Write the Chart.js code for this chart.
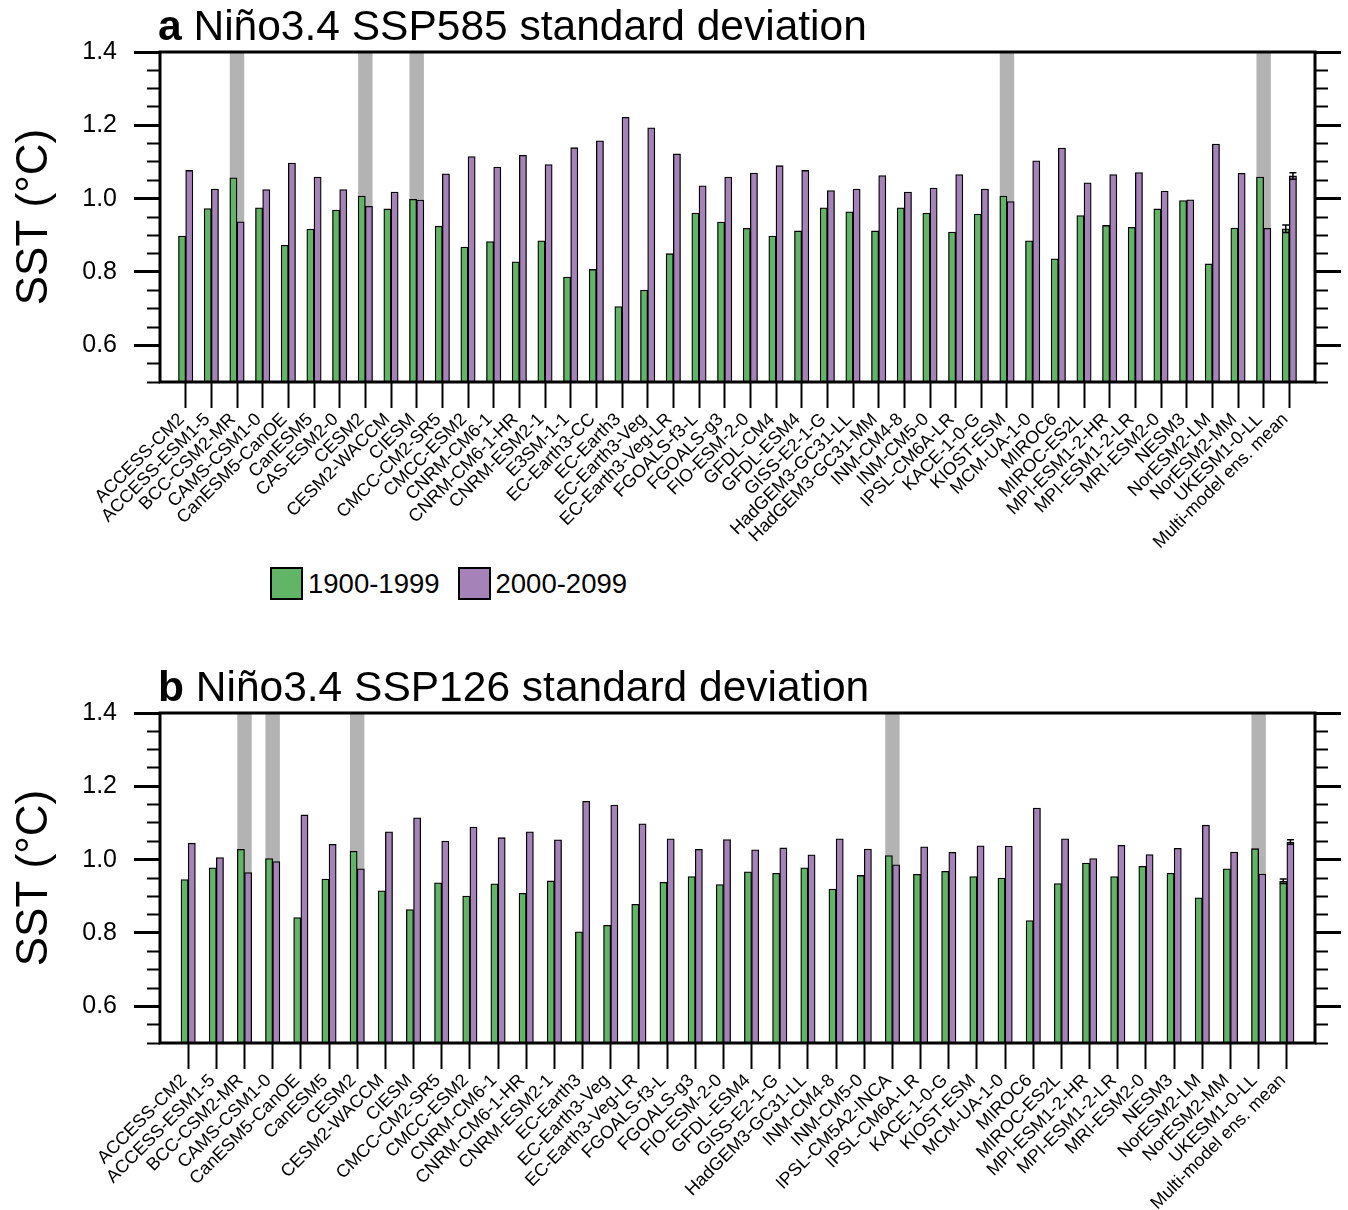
<!DOCTYPE html>
<html>
<head>
<meta charset="utf-8">
<title>Niño3.4 standard deviation</title>
<script src="https://cdn.jsdelivr.net/npm/chart.js@4.4.1/dist/chart.umd.min.js"></script>
<style>
  html, body { margin: 0; padding: 0; background: #fff; }
  body {
    width: 1348px; height: 1210px; position: relative; overflow: hidden;
    font-family: "Liberation Sans", Arial, sans-serif;
  }
  .panel { position: absolute; left: 0; }
  #panelA { top: 0; }
  #panelB { top: 661px; }
  .legend {
    position: absolute; top: 567px; left: 270px;
    display: flex; align-items: center; font-size: 27.5px; color: #000;
  }
  .legend .item { display: flex; align-items: center; margin-right: 18px; }
  .legend .box {
    width: 33px; height: 33px; box-sizing: border-box;
    border: 2px solid #000; margin-right: 5px;
  }
</style>
</head>
<body>
<canvas id="panelA" class="panel" width="1348" height="560"></canvas>
<div class="legend" id="legend"></div>
<canvas id="panelB" class="panel" width="1348" height="549"></canvas>

<script>
// ---- SSP585 panel ----
const modelsA = ['ACCESS-CM2', 'ACCESS-ESM1-5', 'BCC-CSM2-MR', 'CAMS-CSM1-0', 'CanESM5-CanOE',
  'CanESM5', 'CAS-ESM2-0', 'CESM2', 'CESM2-WACCM', 'CIESM', 'CMCC-CM2-SR5', 'CMCC-ESM2',
  'CNRM-CM6-1', 'CNRM-CM6-1-HR', 'CNRM-ESM2-1', 'E3SM-1-1', 'EC-Earth3-CC', 'EC-Earth3',
  'EC-Earth3-Veg', 'EC-Earth3-Veg-LR', 'FGOALS-f3-L', 'FGOALS-g3', 'FIO-ESM-2-0', 'GFDL-CM4',
  'GFDL-ESM4', 'GISS-E2-1-G', 'HadGEM3-GC31-LL', 'HadGEM3-GC31-MM', 'INM-CM4-8', 'INM-CM5-0',
  'IPSL-CM6A-LR', 'KACE-1-0-G', 'KIOST-ESM', 'MCM-UA-1-0', 'MIROC6', 'MIROC-ES2L',
  'MPI-ESM1-2-HR', 'MPI-ESM1-2-LR', 'MRI-ESM2-0', 'NESM3', 'NorESM2-LM', 'NorESM2-MM',
  'UKESM1-0-LL', 'Multi-model ens. mean'];
const histA = [0.898, 0.973, 1.057, 0.975, 0.873, 0.917, 0.969, 1.007, 0.972, 0.998,
  0.925, 0.868, 0.883, 0.828, 0.885, 0.786, 0.807, 0.706, 0.751, 0.850,
  0.961, 0.936, 0.919, 0.898, 0.912, 0.975, 0.964, 0.912, 0.975, 0.961,
  0.909, 0.958, 1.007, 0.885, 0.836, 0.954, 0.927, 0.922, 0.972, 0.995,
  0.822, 0.920, 1.059, 0.918];
const futA = [1.077, 1.026, 0.937, 1.025, 1.097, 1.059, 1.025, 0.979, 1.018, 0.996,
  1.068, 1.115, 1.086, 1.118, 1.093, 1.139, 1.158, 1.222, 1.193, 1.122,
  1.035, 1.059, 1.070, 1.090, 1.077, 1.022, 1.026, 1.063, 1.018, 1.029,
  1.066, 1.026, 0.992, 1.103, 1.138, 1.043, 1.066, 1.071, 1.021, 0.997,
  1.149, 1.069, 0.919, 1.062];
// models whose std dev drops in the 21st century
const shadedA = ['BCC-CSM2-MR', 'CESM2', 'CIESM', 'KIOST-ESM', 'UKESM1-0-LL'];
const meanErrA = [0.010, 0.009];

// ---- SSP126 panel ----
const modelsB = ['ACCESS-CM2', 'ACCESS-ESM1-5', 'BCC-CSM2-MR', 'CAMS-CSM1-0', 'CanESM5-CanOE',
  'CanESM5', 'CESM2', 'CESM2-WACCM', 'CIESM', 'CMCC-CM2-SR5', 'CMCC-ESM2', 'CNRM-CM6-1',
  'CNRM-CM6-1-HR', 'CNRM-ESM2-1', 'EC-Earth3', 'EC-Earth3-Veg', 'EC-Earth3-Veg-LR',
  'FGOALS-f3-L', 'FGOALS-g3', 'FIO-ESM-2-0', 'GFDL-ESM4', 'GISS-E2-1-G', 'HadGEM3-GC31-LL',
  'INM-CM4-8', 'INM-CM5-0', 'IPSL-CM5A2-INCA', 'IPSL-CM6A-LR', 'KACE-1-0-G', 'KIOST-ESM',
  'MCM-UA-1-0', 'MIROC6', 'MIROC-ES2L', 'MPI-ESM1-2-HR', 'MPI-ESM1-2-LR', 'MRI-ESM2-0',
  'NESM3', 'NorESM2-LM', 'NorESM2-MM', 'UKESM1-0-LL', 'Multi-model ens. mean'];
const histB = [0.946, 0.978, 1.028, 1.003, 0.842, 0.947, 1.023, 0.915, 0.864, 0.937,
  0.901, 0.934, 0.908, 0.942, 0.803, 0.821, 0.878, 0.938, 0.954, 0.932,
  0.967, 0.963, 0.978, 0.920, 0.957, 1.011, 0.960, 0.968, 0.954, 0.950,
  0.834, 0.935, 0.991, 0.954, 0.982, 0.963, 0.896, 0.975, 1.030, 0.941];
const futB = [1.045, 1.006, 0.965, 0.995, 1.122, 1.042, 0.975, 1.076, 1.114, 1.051,
  1.089, 1.060, 1.076, 1.054, 1.159, 1.149, 1.098, 1.057, 1.028, 1.055,
  1.027, 1.032, 1.013, 1.057, 1.029, 0.986, 1.035, 1.020, 1.038, 1.037,
  1.141, 1.057, 1.003, 1.039, 1.014, 1.031, 1.094, 1.021, 0.961, 1.048];
const shadedB = ['BCC-CSM2-MR', 'CAMS-CSM1-0', 'CESM2', 'IPSL-CM5A2-INCA', 'UKESM1-0-LL'];
const meanErrB = [0.006, 0.006];

// shared axis setup
const seriesNames = ['1900-1999', '2000-2099'];
const seriesColors = ['#62b466', '#a582b8'];
const yMajorTicks = [0.6, 0.8, 1.0, 1.2, 1.4];
const yMinorTicks = [0.5, 0.55, 0.65, 0.7, 0.75, 0.85, 0.9, 0.95, 1.05, 1.1, 1.15, 1.25, 1.3, 1.35];
const Y_MIN = 0.5, Y_MAX = 1.4;

const FONT = "'Liberation Sans', Arial, Helvetica, sans-serif";
const PLOT_TOP = 52, PLOT_BOTTOM = 382, PLOT_LEFT = 160, PLOT_RIGHT = 1315;
const BAR_W = 7.2;

Chart.defaults.font.family = FONT;
Chart.defaults.color = '#000';

// gray bands, ensemble-mean error bars, frame and panel title
const panelDecor = {
  id: 'panelDecor',
  beforeDatasetsDraw(chart, args, opts) {
    const { ctx, chartArea: a, scales: { x } } = chart;
    ctx.save();
    ctx.fillStyle = '#b3b3b3';
    opts.shaded.forEach(name => {
      const px = x.getPixelForValue(chart.data.labels.indexOf(name));
      ctx.fillRect(px - BAR_W, a.top, BAR_W * 2, a.bottom - a.top);
    });
    ctx.restore();
  },
  afterDatasetsDraw(chart, args, opts) {
    const { ctx, chartArea: a, scales: { y } } = chart;
    const idx = chart.data.labels.length - 2;
    ctx.save();
    ctx.strokeStyle = '#000';
    ctx.lineWidth = 1.5;
    chart.data.datasets.forEach((ds, i) => {
      const bar = chart.getDatasetMeta(i).data[idx];
      const v = ds.data[idx], e = opts.err[i];
      const t = y.getPixelForValue(v + e), b = y.getPixelForValue(v - e);
      ctx.beginPath();
      ctx.moveTo(bar.x, t); ctx.lineTo(bar.x, b);
      ctx.moveTo(bar.x - 3.5, t); ctx.lineTo(bar.x + 3.5, t);
      ctx.moveTo(bar.x - 3.5, b); ctx.lineTo(bar.x + 3.5, b);
      ctx.stroke();
    });
    ctx.lineWidth = 3;
    ctx.strokeRect(a.left, a.top, a.right - a.left, a.bottom - a.top);
    ctx.restore();
  },
  afterDraw(chart, args, opts) {
    const ctx = chart.ctx;
    ctx.save();
    ctx.fillStyle = '#000';
    ctx.textBaseline = 'alphabetic';
    ctx.font = 'bold 42.5px ' + FONT;
    ctx.fillText(opts.letter, 158, 40);
    const w = ctx.measureText(opts.letter + ' ').width;
    ctx.font = '42.5px ' + FONT;
    ctx.fillText(opts.title, 158 + w, 40);
    ctx.restore();
  }
};

function makePanel(canvasId, letter, title, models, hist, fut, shaded, err) {
  // one empty slot on each side keeps the bars off the frame
  const labels = [''].concat(models, ['']);
  const pad = arr => [null].concat(arr, [null]);
  const last = labels.length - 1;
  const values = [hist, fut];

  const yTickAxis = (position, weight, ticks, len, width, opts) => Object.assign({
    type: 'linear', position, weight, min: Y_MIN, max: Y_MAX,
    afterBuildTicks: s => { s.ticks = ticks.map(v => ({ value: v })); },
    afterFit: s => { s.width = width; },
    border: { display: false },
    grid: { drawOnChartArea: false, drawTicks: true, tickLength: len,
            tickWidth: len > 20 ? 3 : 2, tickColor: '#000' },
    ticks: { display: false }
  }, opts || {});

  return new Chart(document.getElementById(canvasId), {
    type: 'bar',
    data: {
      labels,
      datasets: seriesNames.map((name, i) => ({
        label: name,
        data: pad(values[i]),
        backgroundColor: seriesColors[i],
        borderColor: '#000',
        borderWidth: 1.3,
        barThickness: BAR_W
      }))
    },
    options: {
      responsive: false,
      animation: false,
      layout: { padding: { top: PLOT_TOP, left: 0, right: 0, bottom: 0 } },
      plugins: {
        legend: { display: false },
        tooltip: { enabled: false },
        panelDecor: { shaded, err, letter, title }
      },
      scales: {
        x: {
          type: 'category',
          offset: false,
          afterFit: s => { s.height = s.chart.height - PLOT_BOTTOM; },
          border: { display: false },
          grid: {
            offset: false, drawOnChartArea: false, drawTicks: true, tickLength: 26, tickWidth: 2,
            tickColor: c => (c.index === 0 || c.index === last) ? 'rgba(0,0,0,0)' : '#000'
          },
          ticks: { autoSkip: false, minRotation: 45, maxRotation: 45, padding: 1,
                   labelOffset: -4, font: { size: 18 }, color: '#000' }
        },
        y: yTickAxis('left', 1, yMajorTicks, 26, PLOT_LEFT, {
          ticks: { display: true, padding: 17, font: { size: 25 }, color: '#000',
                   callback: v => v.toFixed(1) },
          title: { display: true, text: 'SST (°C)', font: { size: 44 }, color: '#000',
                   padding: { top: 8, bottom: 0 } }
        }),
        yMinor: yTickAxis('left', 0, yMinorTicks, 13, 0),
        yRight: yTickAxis('right', 1, yMajorTicks, 26, 1348 - PLOT_RIGHT),
        yRightMinor: yTickAxis('right', 0, yMinorTicks, 13, 0)
      }
    },
    plugins: [panelDecor]
  });
}

makePanel('panelA', 'a', 'Niño3.4 SSP585 standard deviation',
  modelsA, histA, futA, shadedA, meanErrA);
makePanel('panelB', 'b', 'Niño3.4 SSP126 standard deviation',
  modelsB, histB, futB, shadedB, meanErrB);

// legend between the panels
const legend = document.getElementById('legend');
seriesNames.forEach((name, i) => {
  const item = document.createElement('div');
  item.className = 'item';
  const box = document.createElement('span');
  box.className = 'box';
  box.style.background = seriesColors[i];
  const txt = document.createElement('span');
  txt.textContent = name;
  item.appendChild(box);
  item.appendChild(txt);
  legend.appendChild(item);
});
</script>
</body>
</html>
